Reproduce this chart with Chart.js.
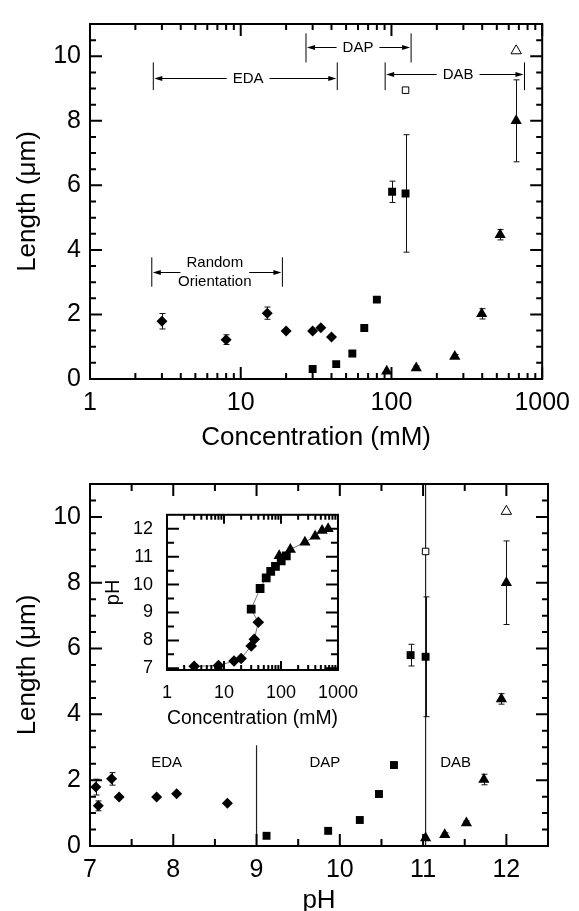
<!DOCTYPE html>
<html>
<head>
<meta charset="utf-8">
<script src="https://cdn.jsdelivr.net/npm/chart.js@4.4.1/dist/chart.umd.min.js"></script>
<style>
  html, body { margin: 0; padding: 0; background: #fff; overflow: hidden; }
  #wrap { position: relative; width: 579px; height: 911px; }
  canvas { position: absolute; }
  #top { left: 0; top: 0; }
  #bottom { left: 0; top: 460px; }
  #inset { left: 100px; top: 490px; }
</style>
</head>
<body>
<div id="wrap">
  <canvas id="top" width="579" height="460"></canvas>
  <canvas id="bottom" width="579" height="470"></canvas>
  <canvas id="inset" width="270" height="250"></canvas>
</div>
<script>
// EDA (diamonds), DAP (squares), DAB (triangles)
const edaConc = [3, 8, 15, 20, 30, 34, 40];
const edaLen = [1.79, 1.22, 2.04, 1.49, 1.49, 1.59, 1.30];
const edaErr = [0.24, 0.15, 0.19, 0, 0, 0, 0];
const edaPH = [7.07, 7.10, 7.26, 7.35, 7.80, 8.04, 8.65];

const dapConc = [30, 43, 55, 66, 80, 101, 124];
const dapLen = [0.31, 0.46, 0.79, 1.58, 2.46, 5.80, 5.75];
const dapErr = [0, 0, 0, 0, 0.06, 0.33, 1.82];
const dapPH = [9.12, 9.86, 10.24, 10.47, 10.65, 10.85, 11.03];

const dabConc = [93, 146, 263, 397, 526, 672];
const dabLen = [0.24, 0.34, 0.70, 2.02, 4.47, 8.0];
const dabErr = [0, 0.06, 0.06, 0.16, 0.16, 1.27];
const dabPH = [11.03, 11.26, 11.52, 11.73, 11.94, 12.0];

// open symbols
const openSqConc = [124];
const openSqLen = [8.95];
const openSqPH = [11.03];
const openTriConc = [672];
const openTriLen = [10.17];
const openTriPH = [12.0];

// axis ticks
const concMajor = [1, 10, 100, 1000];
const concMinor = [2, 3, 4, 5, 6, 7, 8, 9, 20, 30, 40, 50, 60, 70, 80, 90, 200, 300, 400, 500, 600, 700, 800, 900];
const lenMajor = [0, 2, 4, 6, 8, 10];
const lenMinor = [0.5, 1, 1.5, 2.5, 3, 3.5, 4.5, 5, 5.5, 6.5, 7, 7.5, 8.5, 9, 9.5, 10.5];
const phMajor = [7, 8, 9, 10, 11, 12];
const phMinor = [7.5, 8.5, 9.5, 10.5, 11.5];

// top panel range brackets
const bracketText = [['EDA'], ['DAP'], ['DAB'], ['Random', 'Orientation']];
const bracketFrom = [2.63, 27.1, 90.8, 2.57];
const bracketTo = [43.7, 135, 763, 18.9];
const bracketMid = [11.2, 60, 277, 6.73];
const bracketArrow = [9.33, 10.29, 9.46, 3.31];
const bracketHigh = [9.81, 10.71, 9.81, 3.77];
const bracketLow = [8.95, 9.81, 8.95, 2.86];

// bottom panel regions
const regionText = ['EDA', 'DAP', 'DAB'];
const regionPH = [7.92, 9.82, 11.39];
const regionLen = [2.53, 2.53, 2.53];
const splitPH = [9.0, 11.03];
const splitTop = [3.06, 11];

const FONT = '"Liberation Sans", Arial, Helvetica, sans-serif';
Chart.defaults.font.family = FONT;
Chart.defaults.color = '#000';
Chart.defaults.animation = false;
Chart.defaults.events = [];
Chart.defaults.plugins.legend.display = false;
Chart.defaults.plugins.tooltip.enabled = false;

const pts = (xs, ys) => xs.map((v, i) => ({ x: v, y: ys[i] }));

// box + inward ticks on all four sides
function frame(t) {
  return {
    id: 'frame',
    afterDatasetsDraw(chart) {
      const { ctx, chartArea: a } = chart;
      const xs = chart.scales.x, ys = chart.scales.y;
      ctx.save();
      ctx.strokeStyle = '#000';
      ctx.lineWidth = t.width;
      ctx.beginPath();
      const tick = (vals, len, horiz) => vals.forEach(v => {
        if (horiz) {
          const p = xs.getPixelForValue(v);
          ctx.moveTo(p, a.bottom); ctx.lineTo(p, a.bottom - len);
          ctx.moveTo(p, a.top); ctx.lineTo(p, a.top + len);
        } else {
          const p = ys.getPixelForValue(v);
          ctx.moveTo(a.left, p); ctx.lineTo(a.left + len, p);
          ctx.moveTo(a.right, p); ctx.lineTo(a.right - len, p);
        }
      });
      tick(t.xMajor, t.xLong, true);
      tick(t.xMinor, t.xShort, true);
      tick(t.yMajor, t.yLong, false);
      tick(t.yMinor, t.yShort, false);
      ctx.stroke();
      ctx.strokeRect(a.left, a.top, a.width, a.height);
      ctx.restore();
    }
  };
}

const errorBars = {
  id: 'errorBars',
  beforeDatasetsDraw(chart) {
    const { ctx } = chart;
    ctx.save();
    ctx.strokeStyle = '#111';
    ctx.lineWidth = 1;
    chart.data.datasets.forEach((ds, i) => {
      if (!ds.errors) return;
      const meta = chart.getDatasetMeta(i);
      const ys = chart.scales[meta.yAxisID];
      meta.data.forEach((pt, j) => {
        const e = ds.errors[j];
        if (!e) return;
        const v = ds.data[j].y;
        const y1 = ys.getPixelForValue(v + e), y2 = ys.getPixelForValue(v - e);
        const px = Math.round(pt.x) + 0.5;
        ctx.beginPath();
        ctx.moveTo(px, y1); ctx.lineTo(px, y2);
        ctx.moveTo(px - 3, y1); ctx.lineTo(px + 3, y1);
        ctx.moveTo(px - 3, y2); ctx.lineTo(px + 3, y2);
        ctx.stroke();
      });
    });
    ctx.restore();
  }
};

const brackets = {
  id: 'brackets',
  afterDatasetsDraw(chart) {
    const { ctx } = chart;
    const xs = chart.scales.x, ys = chart.scales.y;
    ctx.save();
    ctx.strokeStyle = '#000';
    ctx.fillStyle = '#000';
    ctx.lineWidth = 1;
    ctx.font = '15px ' + FONT;
    ctx.textAlign = 'center';
    ctx.textBaseline = 'middle';
    bracketText.forEach((lines, i) => {
      const x1 = xs.getPixelForValue(bracketFrom[i]);
      const x2 = xs.getPixelForValue(bracketTo[i]);
      const xm = xs.getPixelForValue(bracketMid[i]);
      const ya = Math.round(ys.getPixelForValue(bracketArrow[i])) + 0.5;
      const yh = ys.getPixelForValue(bracketHigh[i]);
      const yl = ys.getPixelForValue(bracketLow[i]);
      const half = ctx.measureText(lines[0]).width / 2 + 6;
      ctx.beginPath();
      ctx.moveTo(x1, yh); ctx.lineTo(x1, yl);
      ctx.moveTo(x2, yh); ctx.lineTo(x2, yl);
      ctx.moveTo(x1 + 6, ya); ctx.lineTo(xm - half, ya);
      ctx.moveTo(xm + half, ya); ctx.lineTo(x2 - 6, ya);
      ctx.stroke();
      ctx.beginPath();
      ctx.moveTo(x1 + 1, ya); ctx.lineTo(x1 + 9, ya - 2.5); ctx.lineTo(x1 + 9, ya + 2.5); ctx.closePath();
      ctx.moveTo(x2 - 1, ya); ctx.lineTo(x2 - 9, ya - 2.5); ctx.lineTo(x2 - 9, ya + 2.5); ctx.closePath();
      ctx.fill();
      lines.forEach((s, k) => ctx.fillText(s, xm, ya + (k - (lines.length - 1) / 2) * 18.5));
    });
    ctx.restore();
  }
};

const regions = {
  id: 'regions',
  beforeDatasetsDraw(chart) {
    const { ctx } = chart;
    const xs = chart.scales.x, ys = chart.scales.y;
    ctx.save();
    ctx.strokeStyle = '#222';
    ctx.fillStyle = '#000';
    ctx.lineWidth = 1.2;
    ctx.beginPath();
    splitPH.forEach((p, i) => {
      const px = xs.getPixelForValue(p);
      ctx.moveTo(px, ys.getPixelForValue(0));
      ctx.lineTo(px, ys.getPixelForValue(splitTop[i]));
    });
    ctx.stroke();
    ctx.font = '15px ' + FONT;
    ctx.textAlign = 'center';
    ctx.textBaseline = 'middle';
    regionText.forEach((s, i) => ctx.fillText(s, xs.getPixelForValue(regionPH[i]), ys.getPixelForValue(regionLen[i])));
    ctx.restore();
  }
};

function markerSets(xE, xP, xB, xOS, xOT) {
  return [
    { data: pts(xE, edaLen), errors: edaErr, pointStyle: 'rectRot', pointRadius: 5.5, backgroundColor: '#000', borderWidth: 0 },
    { data: pts(xP, dapLen), errors: dapErr, pointStyle: 'rect', pointRadius: 5.6, backgroundColor: '#000', borderWidth: 0 },
    { data: pts(xB, dabLen), errors: dabErr, pointStyle: 'triangle', pointRadius: 6.5, backgroundColor: '#000', borderWidth: 0 },
    { data: pts(xOS, openSqLen), pointStyle: 'rect', pointRadius: 4.6, backgroundColor: '#fff', borderColor: '#000', borderWidth: 1 },
    { data: pts(xOT, openTriLen), pointStyle: 'triangle', pointRadius: 6, backgroundColor: '#fff', borderColor: '#000', borderWidth: 1 }
  ];
}

function lenAxis() {
  return {
    min: 0, max: 11,
    grid: { display: false, drawTicks: false },
    border: { display: false },
    ticks: { font: { size: 25 }, padding: 9, autoSkip: false },
    afterBuildTicks: s => { s.ticks = lenMajor.map(v => ({ value: v })); },
    afterFit: s => { s.width = 90; },
    title: { display: true, text: 'Length (μm)', font: { size: 26 }, padding: { top: 12, bottom: 0 } }
  };
}

new Chart(document.getElementById('top'), {
  type: 'scatter',
  data: { datasets: markerSets(edaConc, dapConc, dabConc, openSqConc, openTriConc) },
  options: {
    responsive: false,
    layout: { padding: { top: 14, right: 31, left: 0, bottom: 0 } },
    scales: {
      x: {
        type: 'logarithmic', min: 1, max: 1000,
        grid: { display: false, drawTicks: false },
        border: { display: false },
        ticks: { font: { size: 25 }, padding: 9, maxRotation: 0, autoSkip: false, callback: v => String(v) },
        afterBuildTicks: s => { s.ticks = concMajor.map(v => ({ value: v })); },
        afterFit: s => { s.height = 81; },
        title: { display: true, text: 'Concentration (mM)', font: { size: 26 }, padding: { top: 0, bottom: 7 } }
      },
      y: lenAxis()
    }
  },
  plugins: [errorBars, brackets, frame({ width: 2, xMajor: concMajor, xMinor: concMinor, xLong: 12, xShort: 6, yMajor: lenMajor, yMinor: lenMinor, yLong: 12, yShort: 6 })]
});

new Chart(document.getElementById('bottom'), {
  type: 'scatter',
  data: { datasets: markerSets(edaPH, dapPH, dabPH, openSqPH, openTriPH) },
  options: {
    responsive: false,
    layout: { padding: { top: 20, right: 31, left: 0, bottom: 0 } },
    scales: {
      x: {
        min: 7, max: 12.5,
        grid: { display: false, drawTicks: false },
        border: { display: false },
        ticks: { font: { size: 25 }, padding: 9, maxRotation: 0, autoSkip: false },
        afterBuildTicks: s => { s.ticks = phMajor.map(v => ({ value: v })); },
        afterFit: s => { s.height = 84; },
        title: { display: true, text: 'pH', font: { size: 26 }, padding: { top: 0, bottom: 14 } }
      },
      y: lenAxis()
    }
  },
  plugins: [regions, errorBars, frame({ width: 2, xMajor: phMajor, xMinor: phMinor, xLong: 12, xShort: 7, yMajor: lenMajor, yMinor: lenMinor, yLong: 12, yShort: 6 })]
});

// inset: pH against concentration
const insetSets = [
  { data: pts(edaConc, edaPH), pointStyle: 'rectRot', pointRadius: 5.8, backgroundColor: '#000', borderWidth: 0, clip: 0 },
  { data: pts(dapConc, dapPH), pointStyle: 'rect', pointRadius: 6.2, backgroundColor: '#000', borderWidth: 0 },
  { data: pts(dabConc, dabPH), pointStyle: 'triangle', pointRadius: 6.5, backgroundColor: '#000', borderWidth: 0 },
  { data: pts([...edaConc, ...dapConc, ...dabConc], [...edaPH, ...dapPH, ...dabPH]), showLine: true, pointRadius: 0, borderColor: '#777', borderWidth: 1, clip: 0 }
];

new Chart(document.getElementById('inset'), {
  type: 'scatter',
  data: { datasets: insetSets },
  options: {
    responsive: false,
    layout: { padding: { top: 15, right: 23, left: 0, bottom: 0 } },
    scales: {
      x: {
        type: 'logarithmic', min: 1, max: 1000,
        grid: { display: false, drawTicks: false },
        border: { display: false },
        ticks: { font: { size: 18 }, padding: 12, maxRotation: 0, autoSkip: false, callback: v => String(v) },
        afterBuildTicks: s => { s.ticks = concMajor.map(v => ({ value: v })); },
        afterFit: s => { s.height = 70; },
        title: { display: true, text: 'Concentration (mM)', font: { size: 20 }, padding: { top: 0, bottom: 10 } }
      },
      y: {
        min: 6.94, max: 12.5,
        grid: { display: false, drawTicks: false },
        border: { display: false },
        ticks: { font: { size: 18 }, padding: 14, autoSkip: false },
        afterBuildTicks: s => { s.ticks = phMajor.map(v => ({ value: v })); },
        afterFit: s => { s.width = 67; },
        title: { display: true, text: 'pH', font: { size: 20 }, padding: { top: 1, bottom: 0 } }
      }
    }
  },
  plugins: [frame({ width: 2, xMajor: concMajor, xMinor: concMinor, xLong: 9, xShort: 5, yMajor: phMajor, yMinor: phMinor, yLong: 12, yShort: 7 })]
});
</script>
</body>
</html>
